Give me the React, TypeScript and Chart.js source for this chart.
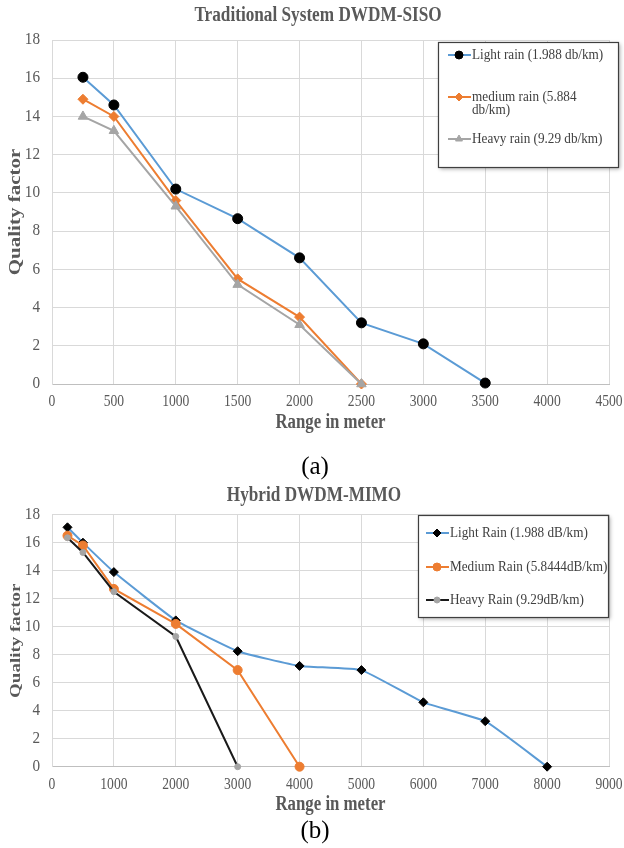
import React, { useEffect, useRef } from 'react';
import { Chart, registerables } from 'chart.js';

Chart.register(...registerables);

const FONT = "'Liberation Serif', 'Times New Roman', Times, serif";

// ---------- Data: (a) Traditional System DWDM-SISO ----------
const sisoLightRange = [250, 500, 1000, 1500, 2000, 2500, 3000, 3500];
const sisoLight = [16.05, 14.6, 10.2, 8.65, 6.6, 3.2, 2.1, 0.05];
const sisoMediumRange = [250, 500, 1000, 1500, 2000, 2500];
const sisoMedium = [14.9, 14.0, 9.6, 5.5, 3.5, 0];
const sisoHeavyRange = [250, 500, 1000, 1500, 2000, 2500];
const sisoHeavy = [14.0, 13.25, 9.3, 5.2, 3.1, 0];

// ---------- Data: (b) Hybrid DWDM-MIMO ----------
const mimoLightRange = [250, 500, 1000, 2000, 3000, 4000, 5000, 6000, 7000, 8000];
const mimoLight = [17.1, 16.0, 13.9, 10.45, 8.25, 7.2, 6.9, 4.6, 3.25, 0];
const mimoMediumRange = [250, 500, 1000, 2000, 3000, 4000];
const mimoMedium = [16.5, 15.8, 12.7, 10.2, 6.9, 0];
const mimoHeavyRange = [250, 500, 1000, 2000, 3000];
const mimoHeavy = [16.35, 15.3, 12.5, 9.3, 0];

// ---------- Text ----------
const titleA = 'Traditional System DWDM-SISO';
const titleB = 'Hybrid DWDM-MIMO';
const xTitle = 'Range in meter';
const yTitle = 'Quality factor';
const legendA = [['Light rain (1.988 db/km)'], ['medium rain (5.884', 'db/km)'], ['Heavy rain (9.29 db/km)']];
const legendB = [['Light Rain (1.988 dB/km)'], ['Medium Rain (5.8444dB/km)'], ['Heavy Rain (9.29dB/km)']];

const BLUE = '#5B9BD5';
const ORANGE = '#ED7D31';
const GRAY = '#A5A5A5';
const TXT = '#595959';

function pts(xs: number[], ys: number[]) {
  return xs.map((x, i) => ({ x, y: ys[i] }));
}

function drawText(ctx: CanvasRenderingContext2D, s: string, x: number, y: number, size: number, bold: boolean,
  color: string, align: CanvasTextAlign, sx = 1, sy = 1, rot = 0) {
  ctx.save();
  ctx.translate(x, y);
  if (rot) ctx.rotate(rot);
  ctx.scale(sx, sy);
  ctx.font = `${bold ? 'bold ' : ''}${size}px ${FONT}`;
  ctx.fillStyle = color;
  ctx.textAlign = align;
  ctx.textBaseline = 'middle';
  ctx.fillText(s, 0, 0);
  ctx.restore();
}

function drawMarker(ctx: CanvasRenderingContext2D, style: string, x: number, y: number, r: number, fill: string, stroke: string) {
  ctx.save();
  ctx.beginPath();
  if (style === 'circle') {
    ctx.arc(x, y, r, 0, Math.PI * 2);
  } else if (style === 'rectRot') {
    ctx.moveTo(x, y - r);
    ctx.lineTo(x + r, y);
    ctx.lineTo(x, y + r);
    ctx.lineTo(x - r, y);
    ctx.closePath();
  } else {
    let a = 0;
    ctx.moveTo(x + Math.sin(a) * r, y - Math.cos(a) * r);
    a += (2 * Math.PI) / 3;
    ctx.lineTo(x + Math.sin(a) * r, y - Math.cos(a) * r);
    a += (2 * Math.PI) / 3;
    ctx.lineTo(x + Math.sin(a) * r, y - Math.cos(a) * r);
    ctx.closePath();
  }
  ctx.fillStyle = fill;
  ctx.fill();
  ctx.strokeStyle = stroke;
  ctx.lineWidth = 1;
  ctx.stroke();
  ctx.restore();
}

type Series = {
  label: string; xs: number[]; ys: number[]; color: string; marker: string; r: number;
  mfill: string; mstroke: string; tension: number;
};

type Cfg = {
  height: number; top: number; padTop: number; xAxisH: number; xMax: number; xStep: number;
  title: string; titleX: number; titleY: number; xTickDy: number; xTitleDy: number;
  caption: string; captionX: number; captionY: number; yTitleSize: number;
  box: { x: number; y: number; w: number; h: number };
  lineX0: number; lineX1: number; markerX: number; textX: number; itemYs: number[];
  legendTexts: string[][];
  series: Series[];
};

const cfgA: Cfg = {
  height: 480, top: 0, padTop: 40, xAxisH: 96, xMax: 4500, xStep: 500,
  title: titleA, titleX: 318, titleY: 16, xTickDy: 18, xTitleDy: 39,
  caption: '(a)', captionX: 315, captionY: 467, yTitleSize: 21,
  box: { x: 438, y: 42, w: 180, h: 125 },
  lineX0: 448, lineX1: 471, markerX: 459, textX: 472, itemYs: [55, 97, 139],
  legendTexts: legendA,
  series: [
    { label: legendA[0].join(' '), xs: sisoLightRange, ys: sisoLight, color: BLUE, marker: 'circle', r: 5, mfill: '#000', mstroke: '#000', tension: 0 },
    { label: legendA[1].join(' '), xs: sisoMediumRange, ys: sisoMedium, color: ORANGE, marker: 'rectRot', r: 5, mfill: ORANGE, mstroke: ORANGE, tension: 0 },
    { label: legendA[2].join(' '), xs: sisoHeavyRange, ys: sisoHeavy, color: GRAY, marker: 'triangle', r: 5.5, mfill: GRAY, mstroke: GRAY, tension: 0 },
  ],
};

const cfgB: Cfg = {
  height: 368, top: 480, padTop: 34.7, xAxisH: 81.3, xMax: 9000, xStep: 1000,
  title: titleB, titleX: 314, titleY: 16, xTickDy: 18.3, xTitleDy: 38,
  caption: '(b)', captionX: 315, captionY: 351, yTitleSize: 19,
  box: { x: 418, y: 35, w: 190, h: 102 },
  lineX0: 426, lineX1: 449, markerX: 437, textX: 450, itemYs: [53, 87, 120],
  legendTexts: legendB,
  series: [
    { label: legendB[0][0], xs: mimoLightRange, ys: mimoLight, color: BLUE, marker: 'rectRot', r: 4.5, mfill: '#000', mstroke: '#000', tension: 0.12 },
    { label: legendB[1][0], xs: mimoMediumRange, ys: mimoMedium, color: ORANGE, marker: 'circle', r: 4.5, mfill: ORANGE, mstroke: ORANGE, tension: 0 },
    { label: legendB[2][0], xs: mimoHeavyRange, ys: mimoHeavy, color: '#1A1A1A', marker: 'circle', r: 3, mfill: GRAY, mstroke: GRAY, tension: 0 },
  ],
};

function makeTextPlugin(cfg: Cfg) {
  return {
    id: 'customText',
    afterDraw(chart: any) {
      const ctx: CanvasRenderingContext2D = chart.ctx;
      const area = chart.chartArea;
      const xs = chart.scales.x;
      const ys = chart.scales.y;
      // title
      drawText(ctx, cfg.title, cfg.titleX, cfg.titleY, 20, true, TXT, 'center', 0.86, 1);
      // y ticks
      ys.ticks.forEach((t: any) => {
        drawText(ctx, String(t.value), area.left - 12, ys.getPixelForValue(t.value), 16, false, TXT, 'right', 0.95, 1);
      });
      // x ticks
      xs.ticks.forEach((t: any) => {
        drawText(ctx, String(t.value), xs.getPixelForValue(t.value), area.bottom + cfg.xTickDy, 16, false, TXT, 'center', 0.85, 1);
      });
      // axis titles
      drawText(ctx, xTitle, (area.left + area.right) / 2, area.bottom + cfg.xTitleDy, 20, true, TXT, 'center', 0.84, 1);
      drawText(ctx, yTitle, 16, (area.top + area.bottom) / 2, cfg.yTitleSize, true, TXT, 'center', 1, 0.8, -Math.PI / 2);
      // legend box
      const b = cfg.box;
      ctx.save();
      ctx.shadowColor = 'rgba(0,0,0,0.35)';
      ctx.shadowBlur = 4;
      ctx.shadowOffsetX = 2;
      ctx.shadowOffsetY = 2;
      ctx.fillStyle = '#FFFFFF';
      ctx.fillRect(b.x, b.y, b.w, b.h);
      ctx.restore();
      ctx.save();
      ctx.strokeStyle = '#3F3F3F';
      ctx.lineWidth = 1.2;
      ctx.strokeRect(b.x + 0.5, b.y + 0.5, b.w, b.h);
      ctx.restore();
      cfg.series.forEach((s, i) => {
        const y = cfg.itemYs[i];
        ctx.save();
        ctx.strokeStyle = s.color;
        ctx.lineWidth = 2;
        ctx.beginPath();
        ctx.moveTo(cfg.lineX0, y);
        ctx.lineTo(cfg.lineX1, y);
        ctx.stroke();
        ctx.restore();
        drawMarker(ctx, s.marker, cfg.markerX, y, Math.min(s.r, 4), s.mfill, s.mstroke);
        cfg.legendTexts[i].forEach((line, k) => {
          drawText(ctx, line, cfg.textX, y + k * 13.5, 15, false, '#404040', 'left', 0.88, 1);
        });
      });
      // caption
      drawText(ctx, cfg.caption, cfg.captionX, cfg.captionY, 25, false, '#000000', 'center', 1, 1);
    },
  };
}

function ChartPanel({ cfg }: { cfg: Cfg }) {
  const ref = useRef<HTMLCanvasElement>(null);
  useEffect(() => {
    const canvas = ref.current;
    if (!canvas) return;
    const n = cfg.series.length;
    const chart = new Chart(canvas, {
      type: 'line',
      data: {
        datasets: cfg.series.map((s, i) => ({
          label: s.label,
          data: pts(s.xs, s.ys),
          borderColor: s.color,
          backgroundColor: s.color,
          borderWidth: 2,
          pointStyle: s.marker as any,
          pointRadius: s.r,
          pointBackgroundColor: s.mfill,
          pointBorderColor: s.mstroke,
          pointBorderWidth: 1,
          tension: s.tension,
          cubicInterpolationMode: 'default',
          clip: false as any,
          order: n - i,
          fill: false,
        })),
      },
      options: {
        responsive: false,
        animation: false,
        events: [],
        layout: { padding: { left: 0, right: 15, top: cfg.padTop, bottom: 0 } },
        plugins: {
          legend: { display: false },
          tooltip: { enabled: false },
          title: { display: false },
        },
        scales: {
          x: {
            type: 'linear',
            min: 0,
            max: cfg.xMax,
            ticks: { stepSize: cfg.xStep, display: false },
            grid: { color: '#D9D9D9', drawTicks: false, lineWidth: 1 },
            border: { color: '#BFBFBF' },
            afterFit: (s: any) => { s.height = cfg.xAxisH; },
          },
          y: {
            type: 'linear',
            min: 0,
            max: 18,
            ticks: { stepSize: 2, display: false },
            grid: { color: '#D9D9D9', drawTicks: false, lineWidth: 1 },
            border: { color: '#D9D9D9' },
            afterFit: (s: any) => { s.width = 52; },
          },
        },
      } as any,
      plugins: [makeTextPlugin(cfg)],
    });
    return () => chart.destroy();
  }, [cfg]);
  return (
    <canvas
      ref={ref}
      width={624}
      height={cfg.height}
      style={{ position: 'absolute', left: 0, top: cfg.top, width: 624, height: cfg.height, display: 'block' }}
    />
  );
}

export default function App() {
  return (
    <div style={{ position: 'absolute', left: 0, top: 0, width: 624, height: 848, background: '#FFFFFF', overflow: 'hidden' }}>
      <ChartPanel cfg={cfgA} />
      <ChartPanel cfg={cfgB} />
    </div>
  );
}
